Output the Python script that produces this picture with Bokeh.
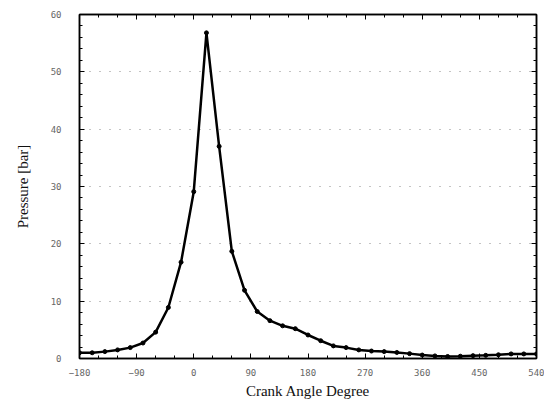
from bokeh.plotting import figure
from bokeh.models import LinearAxis, FixedTicker
from bokeh.embed import file_html
from bokeh.resources import INLINE

# Crank angle (degree) and cylinder pressure (bar)
crank_angle = [-180, -160, -140, -120, -100, -80, -60, -40, -20, 0, 20, 40, 60, 80,
               100, 120, 140, 160, 180, 200, 220, 240, 260, 280, 300, 320, 340,
               360, 380, 400, 420, 440, 460, 480, 500, 520, 540]
pressure = [1.0, 1.0, 1.2, 1.5, 1.9, 2.7, 4.6, 8.9, 16.8, 29.1, 56.8, 37.0, 18.7, 11.9,
            8.2, 6.6, 5.7, 5.2, 4.1, 3.1, 2.2, 1.9, 1.5, 1.3, 1.2, 1.05, 0.85,
            0.6, 0.45, 0.35, 0.4, 0.5, 0.55, 0.65, 0.8, 0.8, 0.8]

x_ticks = [-180, -90, 0, 90, 180, 270, 360, 450, 540]
y_ticks = [0, 10, 20, 30, 40, 50, 60]
x_minor = list(range(-180, 541, 30))
y_minor = list(range(0, 61, 2))

p = figure(width=544, height=404, x_range=(-180, 540), y_range=(0, 60),
           output_backend="svg", toolbar_location=None,
           min_border_left=79, min_border_right=8, min_border_top=14, min_border_bottom=46)

p.background_fill_color = "white"
p.border_fill_color = "white"
p.outline_line_color = "black"
p.outline_line_width = 1.5

tick_font = "DejaVu Sans Mono"
label_font = "Liberation Serif"

for ax in p.xaxis:
    ax.ticker = FixedTicker(ticks=x_ticks, minor_ticks=x_minor)
    ax.axis_label = "Crank Angle Degree"
    ax.axis_label_text_font = label_font
    ax.axis_label_text_font_style = "normal"
    ax.axis_label_text_font_size = "15px"
    ax.axis_label_text_color = "#111111"
    ax.axis_label_standoff = 4
    ax.major_label_text_font = tick_font
    ax.major_label_text_font_size = "9px"
    ax.major_label_text_color = "#666666"
    ax.major_label_standoff = 10
    ax.major_tick_in = 5
    ax.major_tick_out = 0
    ax.minor_tick_in = 3
    ax.minor_tick_out = 0
    ax.axis_line_width = 1.5

for ax in p.yaxis:
    ax.ticker = FixedTicker(ticks=y_ticks, minor_ticks=y_minor)
    ax.axis_label = "Pressure [bar]"
    ax.axis_label_text_font = label_font
    ax.axis_label_text_font_style = "normal"
    ax.axis_label_text_font_size = "15px"
    ax.axis_label_text_color = "#111111"
    ax.axis_label_standoff = 17
    ax.major_label_text_font = tick_font
    ax.major_label_text_font_size = "9px"
    ax.major_label_text_color = "#666666"
    ax.major_label_standoff = 18
    ax.major_tick_in = 5
    ax.major_tick_out = 0
    ax.minor_tick_in = 3
    ax.minor_tick_out = 0
    ax.axis_line_width = 1.5

top_axis = LinearAxis(ticker=FixedTicker(ticks=x_ticks, minor_ticks=x_minor),
                      major_label_overrides={t: "" for t in x_ticks},
                      major_label_standoff=0,
                      major_tick_in=5, major_tick_out=0,
                      minor_tick_in=3, minor_tick_out=0, axis_line_width=1.5)
right_axis = LinearAxis(ticker=FixedTicker(ticks=y_ticks, minor_ticks=y_minor),
                        major_label_overrides={t: "" for t in y_ticks},
                        major_label_standoff=0,
                        major_tick_in=5, major_tick_out=0,
                        minor_tick_in=3, minor_tick_out=0, axis_line_width=1.5)
p.add_layout(top_axis, "above")
p.add_layout(right_axis, "right")

p.xgrid.grid_line_color = None
p.ygrid.ticker = FixedTicker(ticks=[10, 20, 30, 40, 50])
p.ygrid.grid_line_color = "#888888"
p.ygrid.grid_line_dash = "1 9"
p.ygrid.grid_line_width = 1

p.line(crank_angle, pressure, line_width=2.5, color="black")
p.scatter(crank_angle, pressure, marker="circle", size=4, color="black")

open("out.html", "w").write(file_html(p, INLINE))
